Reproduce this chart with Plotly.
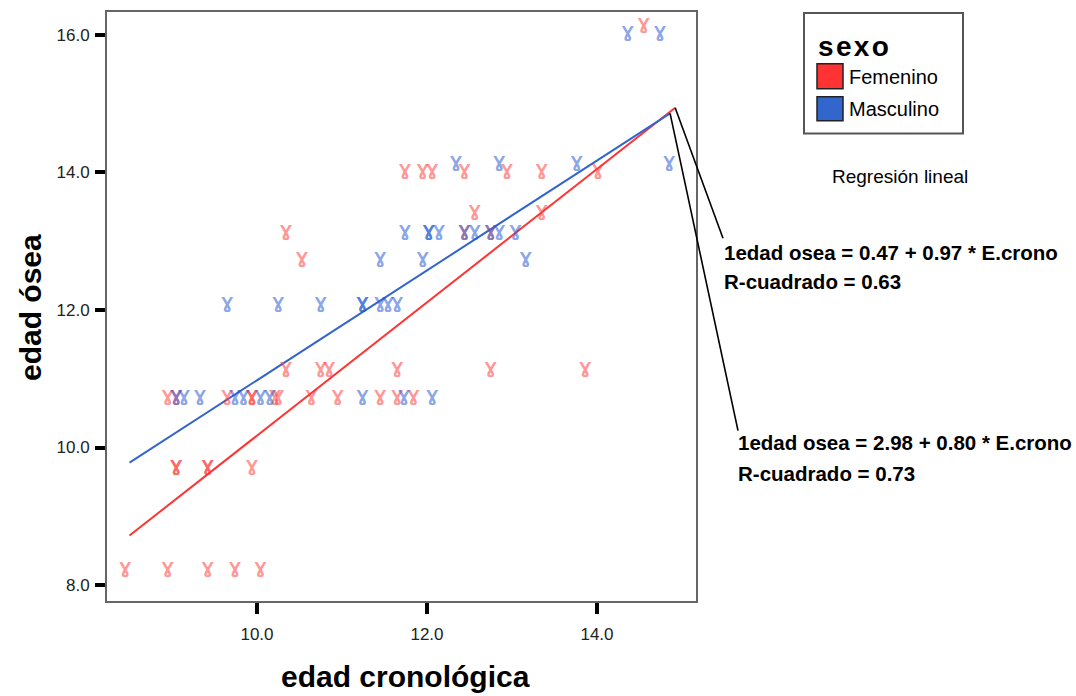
import plotly.graph_objects as go

# ---------------- data ----------------
fem_x = [14.55,
         11.74, 11.95, 12.06, 12.44, 12.94, 13.35, 14.01,
         12.56, 13.35,
         10.34, 12.44, 12.75,
         10.53,
         10.34, 10.75, 10.85, 11.65, 12.75, 13.86,
         8.95, 9.05, 9.65, 9.94, 9.94, 10.21, 10.25, 10.64, 10.95, 11.45, 11.65, 11.84,
         9.05, 9.05, 9.42, 9.42, 9.94,
         8.45, 8.95, 9.42, 9.74, 10.04]
fem_y = [16.12,
         14.0, 14.0, 14.0, 14.0, 14.0, 14.0, 14.0,
         13.4, 13.4,
         13.11, 13.11, 13.11,
         12.73,
         11.12, 11.12, 11.12, 11.12, 11.12, 11.12,
         10.72, 10.72, 10.72, 10.72, 10.72, 10.72, 10.72, 10.72, 10.72, 10.72, 10.72, 10.72,
         9.70, 9.70, 9.70, 9.70, 9.70,
         8.22, 8.22, 8.22, 8.22, 8.22]

mas_x = [14.36, 14.74,
         12.34, 12.85, 13.76, 14.85,
         11.74, 12.02, 12.02, 12.14, 12.44, 12.56, 12.75, 12.85, 13.04,
         11.45, 11.95, 13.16,
         9.65, 10.25, 10.75, 11.24, 11.24, 11.45, 11.54, 11.65,
         9.05, 9.14, 9.33, 9.74, 9.84, 10.04, 10.15, 11.24, 11.73, 12.06]
mas_y = [16.01, 16.01,
         14.12, 14.12, 14.12, 14.12,
         13.11, 13.11, 13.11, 13.11, 13.11, 13.11, 13.11, 13.11, 13.11,
         12.73, 12.73, 12.73,
         12.07, 12.07, 12.07, 12.07, 12.07, 12.07, 12.07, 12.07,
         10.72, 10.72, 10.72, 10.72, 10.72, 10.72, 10.72, 10.72, 10.72, 10.72]

# fit line end points
fem_line_x = [8.50, 14.92]
fem_line_y = [8.72, 14.94]
mas_line_x = [8.50, 14.86]
mas_line_y = [9.78, 14.86]

x_ticks = [10.0, 12.0, 14.0]
y_ticks = [8.0, 10.0, 12.0, 14.0, 16.0]
x_range = [8.235, 15.165]
y_range = [7.768, 16.333]

legend_title = "sexo"
legend_labels = ["Femenino", "Masculino"]
eq_fem = ["1edad osea = 0.47 + 0.97 * E.crono", "R-cuadrado = 0.63"]
eq_mas = ["1edad osea = 2.98 + 0.80 * E.crono", "R-cuadrado = 0.73"]

# ---------------- styling ----------------
W, H = 1076, 696
L, R, T, B = 107, 380, 10, 95
PW, PH = W - L - R, H - T - B

RED = "#ff3333"
BLUE = "#3366cc"
RED_M = "rgba(255,60,60,0.55)"
BLUE_M = "rgba(40,90,210,0.55)"
GLYPH = "<b>\u0194</b>"   # V-shaped glyph with a loop, stands in for the victory-hand marker
GFONT = "DejaVu Sans, sans-serif"
FONT = "Liberation Sans, Arial, sans-serif"


def px(xp):
    return (xp - L) / PW


def py(yp):
    return (T + PH - yp) / PH


def dx(v):
    return (v - x_range[0]) / (x_range[1] - x_range[0])


def dy(v):
    return (v - y_range[0]) / (y_range[1] - y_range[0])


fig = go.Figure()

fig.add_trace(go.Scatter(x=fem_line_x, y=fem_line_y, mode="lines",
                         line=dict(color=RED, width=2), showlegend=False,
                         hoverinfo="skip"))
fig.add_trace(go.Scatter(x=mas_line_x, y=mas_line_y, mode="lines",
                         line=dict(color=BLUE, width=2), showlegend=False,
                         hoverinfo="skip"))
fig.add_trace(go.Scatter(x=fem_x, y=fem_y, mode="text",
                         text=[GLYPH] * len(fem_x), textposition="middle center",
                         textfont=dict(family=GFONT, size=15, color=RED_M),
                         name=legend_labels[0], showlegend=False))
fig.add_trace(go.Scatter(x=mas_x, y=mas_y, mode="text",
                         text=[GLYPH] * len(mas_x), textposition="middle center",
                         textfont=dict(family=GFONT, size=15, color=BLUE_M),
                         name=legend_labels[1], showlegend=False))

shapes = []
annotations = []

# connector lines from fit ends to equations
shapes.append(dict(type="line", xref="paper", yref="paper",
                   x0=dx(fem_line_x[1]), y0=dy(fem_line_y[1]),
                   x1=px(723), y1=py(237), line=dict(color="black", width=1.6)))
shapes.append(dict(type="line", xref="paper", yref="paper",
                   x0=dx(mas_line_x[1]), y0=dy(mas_line_y[1]),
                   x1=px(738), y1=py(430), line=dict(color="black", width=1.6)))

# legend box
shapes.append(dict(type="rect", xref="paper", yref="paper",
                   x0=px(804), x1=px(963), y0=py(132), y1=py(11),
                   line=dict(color="#555555", width=2), fillcolor="white"))
shapes.append(dict(type="rect", xref="paper", yref="paper",
                   x0=px(817), x1=px(843), y0=py(87), y1=py(62),
                   line=dict(color="#222222", width=1.5), fillcolor=RED))
shapes.append(dict(type="rect", xref="paper", yref="paper",
                   x0=px(817), x1=px(843), y0=py(119), y1=py(95),
                   line=dict(color="#222222", width=1.5), fillcolor=BLUE))

annotations.append(dict(xref="paper", yref="paper", x=px(816), y=py(45),
                        xanchor="left", yanchor="middle", showarrow=False,
                        text="<b>s\u200Ae\u200Ax\u200Ao</b>",
                        font=dict(family=FONT, size=28, color="black")))
annotations.append(dict(xref="paper", yref="paper", x=px(847), y=py(75),
                        xanchor="left", yanchor="middle", showarrow=False,
                        text=legend_labels[0],
                        font=dict(family=FONT, size=20, color="black")))
annotations.append(dict(xref="paper", yref="paper", x=px(847), y=py(107),
                        xanchor="left", yanchor="middle", showarrow=False,
                        text=legend_labels[1],
                        font=dict(family=FONT, size=20, color="black")))
annotations.append(dict(xref="paper", yref="paper", x=px(900), y=py(175),
                        xanchor="center", yanchor="middle", showarrow=False,
                        text="Regresión lineal",
                        font=dict(family=FONT, size=19, color="black")))

# equations
for (txt, xp, yp) in [(eq_fem[0], 722, 251), (eq_fem[1], 722, 280),
                      (eq_mas[0], 736, 442), (eq_mas[1], 736, 473)]:
    annotations.append(dict(xref="paper", yref="paper", x=px(xp), y=py(yp),
                            xanchor="left", yanchor="middle", showarrow=False,
                            text="<b>" + txt + "</b>",
                            font=dict(family=FONT, size=20.5, color="black")))

# axis titles
annotations.append(dict(xref="paper", yref="paper", x=px(405), y=py(677),
                        xanchor="center", yanchor="middle", showarrow=False,
                        text="<b>edad cronológica</b>",
                        font=dict(family=FONT, size=30, color="black")))
annotations.append(dict(xref="paper", yref="paper", x=px(31), y=py(307),
                        xanchor="center", yanchor="middle", showarrow=False,
                        textangle=-90, text="<b>edad ósea</b>",
                        font=dict(family=FONT, size=30, color="black")))

fig.update_layout(
    width=W, height=H,
    margin=dict(l=L, r=R, t=T, b=B, pad=0),
    paper_bgcolor="white", plot_bgcolor="white",
    showlegend=False,
    shapes=shapes, annotations=annotations,
    xaxis=dict(range=x_range, tickvals=x_ticks, tickformat=".1f",
               showgrid=False, zeroline=False,
               showline=True, mirror=True, linecolor="#666666", linewidth=2,
               ticks="outside", ticklen=11, tickwidth=4, tickcolor="black",
               ticklabelstandoff=6,
               tickfont=dict(family=FONT, size=17, color="#222222")),
    yaxis=dict(range=y_range, tickvals=y_ticks, tickformat=".1f",
               showgrid=False, zeroline=False,
               showline=True, mirror=True, linecolor="#666666", linewidth=2,
               ticks="outside", ticklen=10, tickwidth=4, tickcolor="black",
               ticklabelstandoff=2,
               tickfont=dict(family=FONT, size=17, color="#222222")),
)

fig.write_html("out.html")
